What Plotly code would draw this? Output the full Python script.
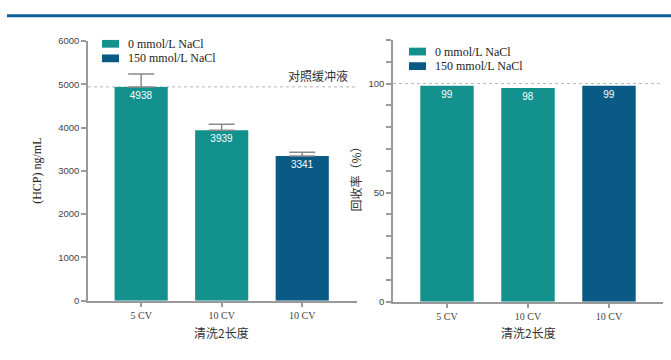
import plotly.graph_objects as go

W, H = 671, 360

# data
categories = ["5 CV", "10 CV", "10 CV"]
series_names = ["0 mmol/L NaCl", "150 mmol/L NaCl"]
hcp_values = [4938, 3939, 3341]
hcp_err_up = [300, 135, 90]
recovery_values = [99, 98, 99]
series_of_bar = [0, 0, 1]
control_hcp = 4938
control_recovery = 100
hcp_ticks = [0, 1000, 2000, 3000, 4000, 5000, 6000]
rec_ticks = list(range(0, 121, 10))
rec_tick_text = ["0" if v == 0 else ("50" if v == 50 else ("100" if v == 100 else "")) for v in rec_ticks]

TEAL = "#12918d"
NAVY = "#0a5a86"
colors = [TEAL, NAVY]
AX = "#9a9a9a"
SERIF = "Liberation Serif, Times New Roman, serif"
CJK = "Noto Sans CJK SC, sans-serif"
SANS = "Liberation Sans Narrow, Liberation Sans, Arial, sans-serif"


def px_x(v):
    return v / W


def px_y(v):
    return 1 - v / H


fig = go.Figure()

for s, name in enumerate(series_names):
    idx = [i for i, k in enumerate(series_of_bar) if k == s]
    xs = idx
    # HCP bars (left panel)
    fig.add_trace(go.Bar(
        x=xs, y=[hcp_values[i] for i in idx], name=name,
        marker=dict(color=colors[s], line=dict(width=0)),
        width=0.66,
        text=[str(hcp_values[i]) for i in idx],
        textposition="inside", insidetextanchor="end",
        textfont=dict(color="white", size=10, family=SANS),
        error_y=dict(type="data", symmetric=False,
                     array=[hcp_err_up[i] for i in idx],
                     arrayminus=[0 for _ in idx],
                     color="#8a8a8a", thickness=1.5, width=13),
        xaxis="x", yaxis="y", showlegend=False,
    ))
    # recovery bars (right panel)
    fig.add_trace(go.Bar(
        x=xs, y=[recovery_values[i] for i in idx], name=name,
        marker=dict(color=colors[s], line=dict(width=0)),
        width=0.66,
        text=[str(recovery_values[i]) for i in idx],
        textposition="inside", insidetextanchor="end",
        textfont=dict(color="white", size=10, family=SANS),
        xaxis="x2", yaxis="y2", showlegend=False,
    ))

axis_common = dict(showline=True, linecolor=AX, linewidth=1.5, ticks="outside",
                   ticklen=5, tickcolor=AX, tickwidth=1.5, showgrid=False,
                   zeroline=False, fixedrange=True)

shapes = [
    dict(type="line", xref="paper", yref="paper", x0=px_x(7), x1=1,
         y0=px_y(10), y1=px_y(10), line=dict(color="#0f5e9c", width=3)),
    dict(type="line", xref="x domain", yref="y", x0=0, x1=1,
         y0=control_hcp, y1=control_hcp,
         line=dict(color="#b5b5b5", width=1, dash="dot"), layer="below"),
    dict(type="line", xref="x2 domain", yref="y2", x0=0, x1=1,
         y0=control_recovery, y1=control_recovery,
         line=dict(color="#b5b5b5", width=1, dash="dot"), layer="below"),
]

annotations = [
    dict(text="对照缓冲液", xref="paper", yref="paper", x=px_x(350), y=px_y(72),
         xanchor="right", yanchor="middle", showarrow=False,
         font=dict(family=CJK, size=12, color="#333")),
    dict(text="(HCP) ng/mL", xref="paper", yref="paper", x=px_x(37), y=px_y(170),
         xanchor="center", yanchor="middle", textangle=-90, showarrow=False,
         font=dict(family=SERIF, size=12, color="#222")),
    dict(text="回收率（%）", xref="paper", yref="paper", x=px_x(356), y=px_y(176),
         xanchor="center", yanchor="middle", textangle=-90, showarrow=False,
         font=dict(family=CJK, size=12, color="#333")),
    dict(text="清洗2长度", xref="paper", yref="paper", x=px_x(221), y=px_y(337),
         xanchor="center", yanchor="middle", showarrow=False,
         font=dict(family=CJK, size=12, color="#333")),
    dict(text="清洗2长度", xref="paper", yref="paper", x=px_x(528), y=px_y(337),
         xanchor="center", yanchor="middle", showarrow=False,
         font=dict(family=CJK, size=12, color="#333")),
]

# legend keys: swatch + label for each series, one block per panel
legend_blocks = [(102, [39, 54]), (409, [47, 62])]
for x0, rows in legend_blocks:
    for s, (name, yc) in enumerate(zip(series_names, rows)):
        shapes.append(dict(type="rect", xref="paper", yref="paper",
                           x0=px_x(x0), x1=px_x(x0 + 17),
                           y0=px_y(yc - 4), y1=px_y(yc + 4),
                           fillcolor=colors[s], line=dict(width=0)))
        annotations.append(dict(text=name, xref="paper", yref="paper",
                                x=px_x(x0 + 24), y=px_y(yc), xanchor="left",
                                yanchor="middle", showarrow=False,
                                font=dict(family=SERIF, size=12, color="#222")))

fig.update_layout(
    width=W, height=H,
    margin=dict(l=0, r=0, t=0, b=0),
    paper_bgcolor="white", plot_bgcolor="white",
    barmode="overlay",
    xaxis=dict(domain=[px_x(88), px_x(357)], range=[-0.66, 2.68],
               tickvals=[0, 1, 2], ticktext=categories,
               tickfont=dict(family=SERIF, size=10, color="#444"),
               anchor="y", **axis_common),
    yaxis=dict(domain=[px_y(304), px_y(36)], range=[0, 6000],
               tickvals=hcp_ticks,
               tickfont=dict(family=SANS, size=9.5, color="#444"),
               anchor="x", **axis_common),
    xaxis2=dict(domain=[px_x(393), px_x(663)], range=[-0.667, 2.667],
                tickvals=[0, 1, 2], ticktext=categories,
                tickfont=dict(family=SERIF, size=10, color="#444"),
                anchor="y2", **axis_common),
    yaxis2=dict(domain=[px_y(305), px_y(35)], range=[0, 120],
                tickvals=rec_ticks, ticktext=rec_tick_text,
                tickfont=dict(family=SANS, size=9.5, color="#444"),
                anchor="x2", **axis_common),
    shapes=shapes,
    annotations=annotations,
)

fig.write_html("out.html")
